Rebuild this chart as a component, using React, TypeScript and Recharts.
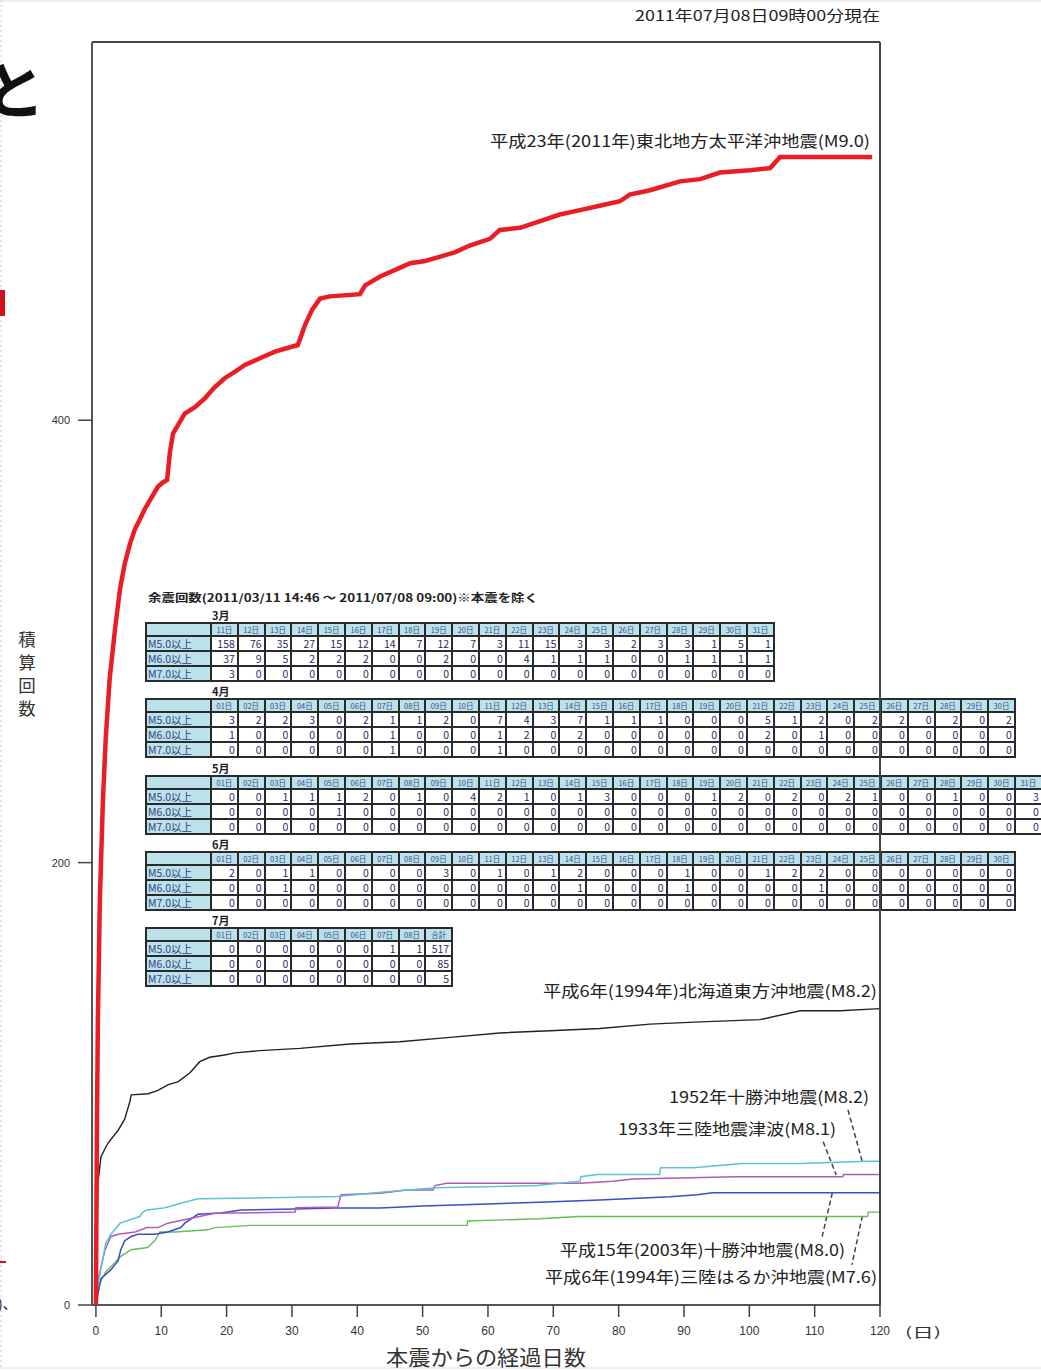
import { Fragment } from 'react'
import { Line, LineChart, ReferenceLine, XAxis, YAxis } from 'recharts'

const FONT = '"Noto Sans CJK JP", "Noto Sans", sans-serif'

// cumulative M5+ aftershocks: [days since main shock, count]
const tohoku2011: [number, number][] = [
  [0, 0], [0.15, 79], [0.3, 129], [0.6, 183], [1.07, 228], [1.5, 256], [2.1, 283], [2.9, 305],
  [3.7, 324], [4.4, 335], [5.2, 344], [6.0, 351], [6.7, 355], [7.5, 360], [8.3, 364], [9.5, 370],
  [10.3, 372], [10.9, 373], [11.3, 385], [11.8, 394], [12.6, 398], [13.6, 403], [15.2, 406],
  [16.7, 410], [18.2, 415], [19.7, 419], [21.3, 422], [22.8, 425], [25.1, 428], [27.4, 431],
  [29.7, 433], [30.9, 434], [32.0, 443], [33.1, 450], [34.3, 455], [35.8, 456], [40.4, 457],
  [41.2, 461], [43.5, 465], [45.8, 468], [48.1, 471], [50.4, 472], [52.7, 474], [55.0, 476],
  [57.2, 479], [60.3, 482], [61.8, 486], [64.9, 487], [68.0, 490], [71.0, 493], [74.1, 495],
  [77.1, 497], [80.2, 499], [81.7, 502], [84.8, 504], [89.4, 508], [92.5, 509], [95.5, 512],
  [100.1, 513], [103.2, 514], [104.7, 519], [118.8, 519],
]
const hokkaidoToho1994: [number, number][] = [
  [0, 0], [0.15, 30], [0.3, 55], [0.77, 67], [1.8, 73], [3.4, 79], [4.4, 84], [5.2, 92], [5.4, 95],
  [8.0, 95.5], [9.5, 97], [11.0, 99.5], [12.6, 101], [14.4, 105], [15.9, 110], [17.4, 112],
  [19.7, 113], [21.3, 114], [25.1, 115], [31.2, 116], [38.9, 118], [46.5, 119], [54.2, 121],
  [61.8, 123], [69.5, 124], [77.1, 125], [84.8, 127], [92.5, 128], [101.6, 129], [107.8, 133],
  [113.9, 133], [120, 134],
]
const tokachi1952: [number, number][] = [
  [0, 0], [0.05, 5], [0.8, 17], [1.5, 28], [2.3, 32], [3.7, 37], [6.7, 40], [7.2, 42], [7.8, 43],
  [10.6, 44], [13.0, 46], [15.6, 48], [37.0, 49], [43.6, 51], [47.7, 52], [52.2, 53], [67.5, 54],
  [74.1, 56], [74.2, 58], [76.7, 59], [86.3, 59], [86.4, 62], [91.4, 62], [99.0, 64], [107.8, 64],
  [118.0, 65], [120, 65],
]
const sanriku1933: [number, number][] = [
  [0, 0], [0.3, 11], [1.4, 25], [2.3, 31], [3.4, 32], [6.0, 33], [7.8, 35], [9.5, 35], [11.0, 37],
  [12.6, 38], [18.2, 41.5], [30.5, 42], [30.6, 44], [37.0, 44.3], [37.5, 49.8], [43.5, 50.5],
  [47.6, 52], [51.6, 52], [51.9, 54], [53.7, 55], [74.1, 55], [79.1, 56], [82.2, 57], [98.1, 58],
  [114.3, 58], [114.4, 59], [120, 59],
]
const tokachi2003: [number, number][] = [
  [0, 0], [0.5, 8], [0.8, 12], [2.3, 16], [3.4, 20], [3.8, 25], [4.4, 29], [5.4, 31], [6.4, 32],
  [9.0, 32], [11.0, 33], [13.0, 35], [13.6, 37], [15.6, 41], [19.1, 41.6], [22.2, 43], [30.5, 43.4],
  [36.6, 43.9], [43.5, 43.9], [50.0, 44.8], [59.9, 45.7], [69.0, 46.6], [77.1, 47.5], [87.9, 48.9],
  [92.0, 49.8], [94.4, 50.7], [120, 50.7],
]
const sanrikuHaruka1994: [number, number][] = [
  [0, 0], [0.6, 10], [1.5, 15], [3.0, 19.5], [3.8, 22], [5.4, 25], [7.9, 26], [9.0, 29], [9.8, 33],
  [12.1, 33], [17.1, 34], [18.2, 35], [23.7, 36], [56.8, 36], [56.9, 38], [67.9, 39], [73.8, 40],
  [118.1, 40], [118.2, 42], [120, 42],
]

const dayTicks = [0, 10, 20, 30, 40, 50, 60, 70, 80, 90, 100, 110, 120]
const countTicks = [0, 200, 400]
const topTicks = [20.4, 54.5, 87.7, 104.3]

// leader lines from label to curve, in data units
const leaders: [number, number, number, number][] = [
  [115.1, 88.2, 117.3, 64.7],
  [111.3, 73.8, 113.3, 58.8],
  [112.7, 50.7, 111.1, 30.3],
  [117.3, 40.3, 115.7, 18.1],
]

// daily aftershock table
const marchM5 = [158, 76, 35, 27, 15, 12, 14, 7, 12, 7, 3, 11, 15, 3, 3, 2, 3, 3, 1, 5, 1]
const marchM6 = [37, 9, 5, 2, 2, 2, 0, 0, 2, 0, 0, 4, 1, 1, 1, 0, 0, 1, 1, 1, 1]
const marchM7 = [3, 0, 0, 0, 0, 0, 0, 0, 0, 0, 0, 0, 0, 0, 0, 0, 0, 0, 0, 0, 0]
const aprilM5 = [3, 2, 2, 3, 0, 2, 1, 1, 2, 0, 7, 4, 3, 7, 1, 1, 1, 0, 0, 0, 5, 1, 2, 0, 2, 2, 0, 2, 0, 2]
const aprilM6 = [1, 0, 0, 0, 0, 0, 1, 0, 0, 0, 1, 2, 0, 2, 0, 0, 0, 0, 0, 0, 2, 0, 1, 0, 0, 0, 0, 0, 0, 0]
const aprilM7 = [0, 0, 0, 0, 0, 0, 1, 0, 0, 0, 1, 0, 0, 0, 0, 0, 0, 0, 0, 0, 0, 0, 0, 0, 0, 0, 0, 0, 0, 0]
const mayM5 = [0, 0, 1, 1, 1, 2, 0, 1, 0, 4, 2, 1, 0, 1, 3, 0, 0, 0, 1, 2, 0, 2, 0, 2, 1, 0, 0, 1, 0, 0, 3]
const mayM6 = [0, 0, 0, 0, 1, 0, 0, 0, 0, 0, 0, 0, 0, 0, 0, 0, 0, 0, 0, 0, 0, 0, 0, 0, 0, 0, 0, 0, 0, 0, 0]
const mayM7 = [0, 0, 0, 0, 0, 0, 0, 0, 0, 0, 0, 0, 0, 0, 0, 0, 0, 0, 0, 0, 0, 0, 0, 0, 0, 0, 0, 0, 0, 0, 0]
const juneM5 = [2, 0, 1, 1, 0, 0, 0, 0, 3, 0, 1, 0, 1, 2, 0, 0, 0, 1, 0, 0, 1, 2, 2, 0, 0, 0, 0, 0, 0, 0]
const juneM6 = [0, 0, 1, 0, 0, 0, 0, 0, 0, 0, 0, 0, 0, 1, 0, 0, 0, 1, 0, 0, 0, 0, 1, 0, 0, 0, 0, 0, 0, 0]
const juneM7 = [0, 0, 0, 0, 0, 0, 0, 0, 0, 0, 0, 0, 0, 0, 0, 0, 0, 0, 0, 0, 0, 0, 0, 0, 0, 0, 0, 0, 0, 0]
const julyM5 = [0, 0, 0, 0, 0, 0, 1, 1, 517]
const julyM6 = [0, 0, 0, 0, 0, 0, 0, 0, 85]
const julyM7 = [0, 0, 0, 0, 0, 0, 0, 0, 5]
const rowLabels = ['M5.0以上', 'M6.0以上', 'M7.0以上']

const dayLabels = (from: number, to: number) => {
  const out: string[] = []
  for (let d = from; d <= to; d++) out.push(String(d).padStart(2, '0') + '日')
  return out
}

const tables = [
  { month: '3月', days: dayLabels(11, 31), rows: [marchM5, marchM6, marchM7], top: 622 },
  { month: '4月', days: dayLabels(1, 30), rows: [aprilM5, aprilM6, aprilM7], top: 698 },
  { month: '5月', days: dayLabels(1, 31), rows: [mayM5, mayM6, mayM7], top: 775 },
  { month: '6月', days: dayLabels(1, 30), rows: [juneM5, juneM6, juneM7], top: 851 },
  { month: '7月', days: [...dayLabels(1, 8), '合計'], rows: [julyM5, julyM6, julyM7], top: 927 },
]

const toPoints = (pairs: [number, number][]) => pairs.map(([day, count]) => ({ day, count }))

const series = [
  { name: '1994北海道東方沖', data: hokkaidoToho1994, color: '#222222', width: 1.4 },
  { name: '1994三陸はるか沖', data: sanrikuHaruka1994, color: '#62c152', width: 1.4 },
  { name: '2003十勝沖', data: tokachi2003, color: '#3b4ec2', width: 1.5 },
  { name: '1933三陸', data: sanriku1933, color: '#b25ab8', width: 1.5 },
  { name: '1952十勝沖', data: tokachi1952, color: '#5cc3d4', width: 1.5 },
  { name: '2011東北', data: tohoku2011, color: '#ec1c24', width: 4.5 },
]

const HEAD = '#bbe2ea'

function CountTable({ month, days, rows, top }: { month: string; days: string[]; rows: number[][]; top: number }) {
  return (
    <div style={{ position: 'absolute', left: 145, top: top - 14 }}>
      <div style={{ fontSize: 11, fontWeight: 'bold', marginLeft: 67, height: 14, lineHeight: '14px', color: '#222' }}>
        {month}
      </div>
      <div
        style={{
          display: 'grid',
          gridTemplateColumns: `63px repeat(${days.length}, 24.8px)`,
          gridTemplateRows: '11px 13px 13px 13px',
          gap: 2,
          padding: 2,
          background: '#2a2a2a',
          width: 'max-content',
        }}
      >
        <div style={{ background: HEAD }} />
        {days.map((d) => (
          <div key={d} style={{ background: HEAD, fontSize: 7.5, lineHeight: '11px', textAlign: 'center', color: '#3a4a88', whiteSpace: 'nowrap' }}>
            {d}
          </div>
        ))}
        {rows.map((values, r) => (
          <Fragment key={r}>
            <div style={{ background: HEAD, fontSize: 10.5, lineHeight: '13px', color: '#33418a', paddingLeft: 1, whiteSpace: 'nowrap' }}>
              {rowLabels[r]}
            </div>
            {values.map((v, i) => (
              <div key={i} style={{ background: '#fff', fontSize: 10.5, lineHeight: '13px', textAlign: 'right', paddingRight: 2, color: '#1f2b66' }}>
                {v}
              </div>
            ))}
          </Fragment>
        ))}
      </div>
    </div>
  )
}

export default function App() {
  return (
    <div style={{ position: 'absolute', left: 0, top: 0, width: 1041, height: 1370, overflow: 'hidden', background: '#fff', fontFamily: FONT }}>
      {tables.map((t) => (
        <CountTable key={t.month} {...t} />
      ))}

      <div style={{ position: 'absolute', left: 0, top: 0 }}>
        <LineChart width={1041} height={1370} margin={{ top: 32, right: 151, bottom: 35, left: 52 }}>
          <XAxis
            dataKey="day"
            type="number"
            domain={[-0.6, 120]}
            allowDataOverflow
            ticks={dayTicks}
            interval={0}
            height={30}
            tickSize={12}
            tickMargin={9}
            axisLine={{ stroke: '#555', strokeWidth: 2 }}
            tickLine={{ stroke: '#444', strokeWidth: 1.5 }}
            tick={{ fill: '#333', fontSize: 12, fontFamily: '"Liberation Sans", sans-serif' }}
          />
          <XAxis
            xAxisId="top"
            orientation="top"
            type="number"
            domain={[-0.6, 120]}
            ticks={topTicks}
            height={10}
            tickSize={8}
            tickFormatter={() => ''}
            axisLine={{ stroke: '#444', strokeWidth: 2 }}
            tickLine={{ stroke: '#444', strokeWidth: 1.5 }}
          />
          <YAxis
            dataKey="count"
            type="number"
            domain={[0, 571]}
            allowDataOverflow
            ticks={countTicks}
            interval={0}
            width={40}
            tickSize={14}
            tickMargin={8}
            axisLine={{ stroke: '#555', strokeWidth: 2 }}
            tickLine={{ stroke: '#444', strokeWidth: 1.5 }}
            tick={{ fill: '#333', fontSize: 11, fontFamily: '"Liberation Sans", sans-serif' }}
          />
          <YAxis
            yAxisId="right"
            orientation="right"
            type="number"
            domain={[0, 571]}
            ticks={[400]}
            width={10}
            tickSize={9}
            tickFormatter={() => ''}
            axisLine={{ stroke: '#444', strokeWidth: 2 }}
            tickLine={{ stroke: '#444', strokeWidth: 1.5 }}
          />
          {leaders.map(([x1, y1, x2, y2], i) => (
            <ReferenceLine
              key={i}
              segment={[{ x: x1, y: y1 }, { x: x2, y: y2 }]}
              stroke="#444"
              strokeWidth={1.5}
              strokeDasharray="5 3"
              ifOverflow="visible"
            />
          ))}
          {series.map((s) => (
            <Line
              key={s.name}
              data={toPoints(s.data)}
              dataKey="count"
              name={s.name}
              type="linear"
              stroke={s.color}
              strokeWidth={s.width}
              dot={false}
              activeDot={false}
              isAnimationActive={false}
            />
          ))}
        </LineChart>
      </div>

      <svg width={1041} height={1370} style={{ position: 'absolute', left: 0, top: 0, pointerEvents: 'none' }} fontFamily={FONT}>
        {/* bits of the surrounding page */}
        <line x1={1} y1={0} x2={1} y2={1370} stroke="#ccc" strokeDasharray="2 3" />
        <line x1={0} y1={1} x2={1041} y2={1} stroke="#ddd" />
        <line x1={0} y1={1368} x2={1041} y2={1368} stroke="#ddd" />
        <text x={-17} y={114} fontSize={62} fontWeight="bold" fill="#111">と</text>
        <rect x={0} y={290} width={5} height={26} fill="#d0101c" />
        <rect x={0} y={1261} width={6} height={2} fill="#d0101c" />
        <text x={-2} y={1309} fontSize={14} fill="#222">)、</text>

        <text x={635} y={21} fontSize={15} textLength={245} lengthAdjust="spacingAndGlyphs" fill="#222">
          2011年07月08日09時00分現在
        </text>
        <text x={148} y={602} fontSize={11} fontWeight="bold" textLength={390} lengthAdjust="spacingAndGlyphs" fill="#222">
          余震回数(2011/03/11 14:46 ～ 2011/07/08 09:00)※本震を除く
        </text>

        <text x={490} y={147} fontSize={16} textLength={380} lengthAdjust="spacingAndGlyphs" fill="#222">
          平成23年(2011年)東北地方太平洋沖地震(M9.0)
        </text>
        <text x={543} y={997} fontSize={16} textLength={334} lengthAdjust="spacingAndGlyphs" fill="#222">
          平成6年(1994年)北海道東方沖地震(M8.2)
        </text>
        <text x={669} y={1103} fontSize={16} textLength={200} lengthAdjust="spacingAndGlyphs" fill="#222">
          1952年十勝沖地震(M8.2)
        </text>
        <text x={618} y={1135} fontSize={16} textLength={218} lengthAdjust="spacingAndGlyphs" fill="#222">
          1933年三陸地震津波(M8.1)
        </text>
        <text x={560} y={1256} fontSize={16} textLength={285} lengthAdjust="spacingAndGlyphs" fill="#222">
          平成15年(2003年)十勝沖地震(M8.0)
        </text>
        <text x={545} y={1283} fontSize={16} textLength={332} lengthAdjust="spacingAndGlyphs" fill="#222">
          平成6年(1994年)三陸はるか沖地震(M7.6)
        </text>

        {['積', '算', '回', '数'].map((c, i) => (
          <text key={c} x={27} y={646 + i * 23} fontSize={17.5} textAnchor="middle" fill="#333">
            {c}
          </text>
        ))}
        <text x={386} y={1365} fontSize={21} textLength={200} lengthAdjust="spacingAndGlyphs" fill="#333">
          本震からの経過日数
        </text>
        <text x={905} y={1337} fontSize={13} textLength={36} lengthAdjust="spacingAndGlyphs" fill="#333">
          (日)
        </text>
      </svg>
    </div>
  )
}
